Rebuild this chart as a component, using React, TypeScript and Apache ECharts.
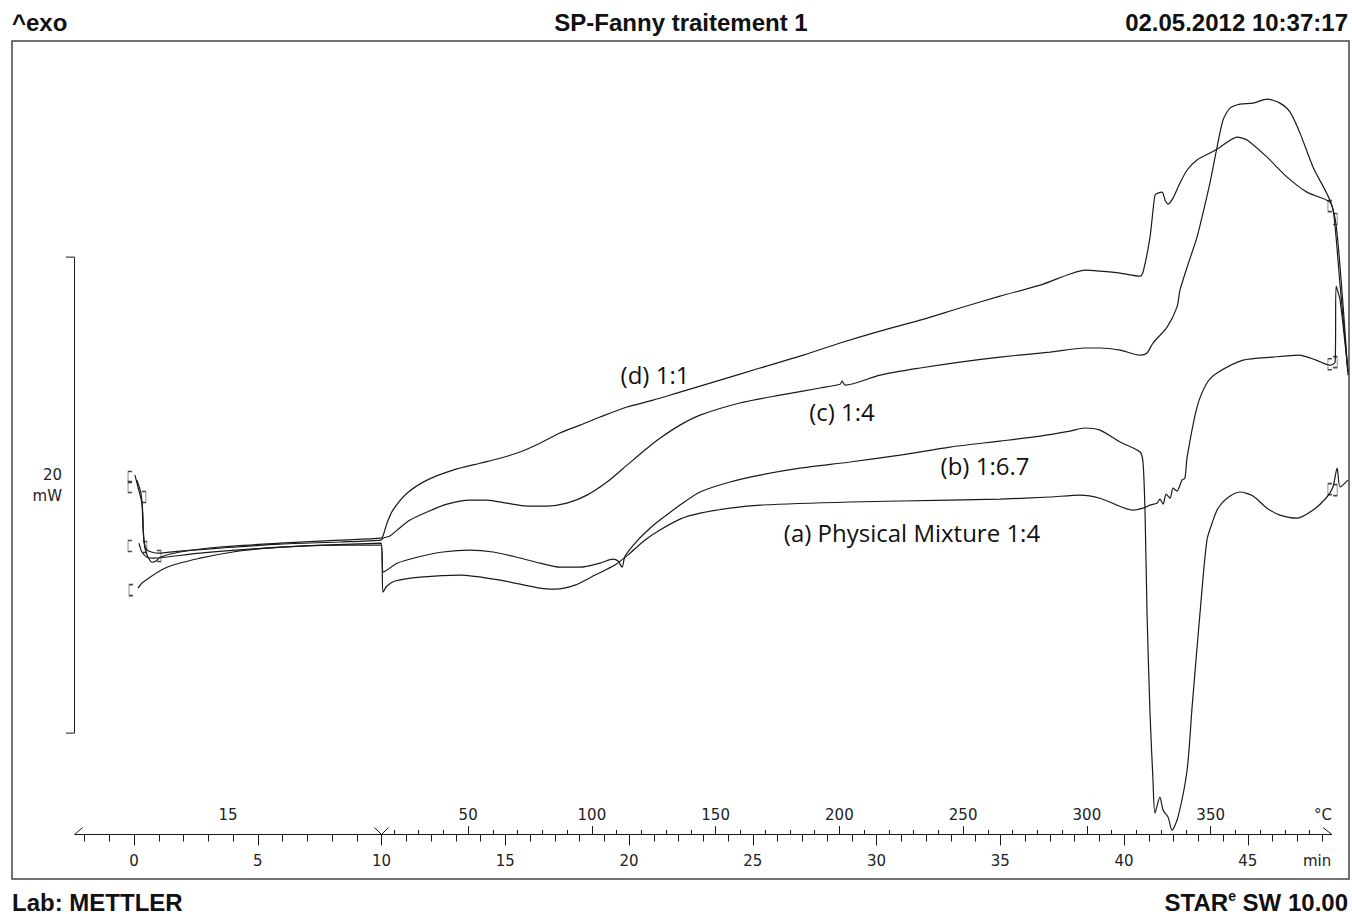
import React, { useEffect, useRef } from "react";
import * as echarts from "echarts";

// ---- axis program (time in min, temperature program) ----
const X_MIN = -2.4;
const X_MAX = 49.09;
const AXIS_END = 48.4;
const SEGMENT_BREAK = 10; // end of isothermal segment (min)
const ISO_TEMP = 15; // °C
const HEAT_RATE = 10; // K/min
const Y_MIN = -4.26;
const Y_MAX = 29.08;

const minuteLabels = [0, 5, 10, 15, 20, 25, 30, 35, 40, 45];
const tempLabels = [15, 50, 100, 150, 200, 250, 300, 350];
const MIN_UNIT_POS = 47.8;
const DEG_UNIT_POS = 48.04;
const scaleBarMw = [0, 20];

// ---- DSC curves: [time (min), heat flow (mW, arbitrary offset)] ----
const curveD = [
  [0.04, 10.84], [0.16, 10.34], [0.32, 9.66], [0.36, 8.66], [0.44, 7.77], [0.57, 7.39], [0.73, 7.18], [0.89, 7.23],
  [1.05, 7.39], [1.86, 7.61], [3.47, 7.82], [5.9, 7.98], [8.32, 8.11], [9.98, 8.19], [10.06, 8.28], [10.22, 8.82],
  [10.46, 9.37], [11.03, 10.08], [11.84, 10.63], [12.89, 11.05], [13.98, 11.34], [14.79, 11.55], [15.6, 11.81],
  [16.4, 12.18], [17.21, 12.61], [18.02, 12.94], [18.83, 13.28], [19.92, 13.7], [20.97, 13.99], [22.06, 14.33],
  [23.68, 14.83], [25.29, 15.34], [26.91, 15.84], [28.53, 16.39], [30.14, 16.89], [31.76, 17.35], [33.37, 17.86],
  [34.99, 18.36], [36.61, 18.82], [37.82, 19.29], [38.42, 19.45], [39.03, 19.41], [39.84, 19.33], [40.65, 19.2],
  [40.77, 19.37], [41.05, 20.84], [41.25, 22.61], [41.37, 22.69], [41.54, 22.73], [41.66, 22.39], [41.78, 22.23],
  [41.98, 22.48], [42.26, 23.11], [42.55, 23.66], [42.95, 24.08], [43.47, 24.37], [43.88, 24.62], [44.57, 25.04],
  [44.97, 24.92], [45.78, 24.2], [46.59, 23.36], [47.39, 22.73], [48.32, 22.31], [48.48, 21.76], [48.73, 18.82],
  [49.05, 15.17],
];
const curveC = [
  [0.12, 10.63], [0.28, 10.08], [0.36, 9.16], [0.4, 8.11], [0.53, 7.69], [0.97, 7.56], [1.86, 7.65], [3.47, 7.77],
  [5.9, 7.94], [8.32, 8.03], [9.98, 8.11], [10.06, 8.19], [10.34, 8.28], [10.63, 8.53], [11.15, 8.95], [11.84, 9.29],
  [12.65, 9.62], [13.58, 9.79], [14.26, 9.79], [15.07, 9.66], [15.88, 9.54], [16.69, 9.54], [17.49, 9.66],
  [18.3, 10.0], [19.11, 10.55], [19.92, 11.26], [20.73, 11.97], [21.25, 12.39], [22.06, 12.94], [22.87, 13.36],
  [24.48, 13.87], [26.1, 14.2], [27.72, 14.5], [28.53, 14.66], [28.61, 14.79], [28.73, 14.62], [30.14, 15.04],
  [31.76, 15.34], [33.37, 15.59], [34.99, 15.8], [37.01, 16.01], [38.42, 16.18], [39.03, 16.18], [39.84, 16.09],
  [40.65, 15.88], [40.93, 15.97], [41.17, 16.39], [41.74, 17.06], [42.14, 17.9], [42.26, 18.61], [42.55, 19.58],
  [42.95, 20.84], [43.19, 21.85], [43.47, 23.11], [43.76, 24.62], [44.0, 25.76], [44.28, 26.26], [44.69, 26.43],
  [45.21, 26.47], [45.78, 26.64], [46.3, 26.47], [46.71, 26.09], [47.11, 25.21], [47.64, 23.78], [48.32, 22.39],
  [48.57, 21.34], [48.85, 17.98], [49.05, 15.04],
];
const curveB = [
  [0.2, 7.98], [0.32, 7.61], [0.53, 7.39], [0.77, 7.35], [1.25, 7.39], [2.67, 7.56], [4.69, 7.73], [6.71, 7.86],
  [9.98, 7.98], [10.06, 6.76], [10.22, 6.85], [10.63, 7.14], [11.43, 7.39], [12.48, 7.61], [13.58, 7.69],
  [14.51, 7.61], [15.47, 7.39], [16.4, 7.14], [17.21, 6.97], [18.02, 6.97], [18.83, 7.14], [19.35, 7.31],
  [19.56, 7.23], [19.72, 6.97], [19.84, 7.44], [20.32, 8.07], [20.85, 8.61], [21.25, 8.95], [22.06, 9.58],
  [22.87, 10.13], [24.08, 10.55], [25.29, 10.84], [26.91, 11.13], [28.93, 11.39], [30.95, 11.68], [32.97, 12.02],
  [34.99, 12.27], [36.61, 12.48], [37.82, 12.69], [38.42, 12.82], [39.03, 12.73], [39.84, 12.23], [40.65, 11.81],
  [40.77, 11.34], [40.85, 9.24], [40.93, 5.04], [41.05, 0.84], [41.17, -1.97], [41.25, -3.36], [41.45, -2.69],
  [41.58, -3.24], [41.78, -3.53], [41.94, -4.08], [42.18, -3.53], [42.55, -1.55], [42.75, 1.09], [43.07, 5.04],
  [43.35, 8.11], [43.6, 8.95], [43.8, 9.45], [44.16, 9.87], [44.69, 10.13], [45.21, 9.96], [45.78, 9.45],
  [46.3, 9.16], [46.99, 9.03], [47.64, 9.37], [48.2, 9.92], [48.44, 10.34], [48.61, 11.13], [48.73, 10.34],
  [49.05, 10.63],
];
const curveA = [
  [0.16, 6.09], [0.36, 6.34], [1.33, 6.97], [2.67, 7.35], [4.0, 7.61], [5.37, 7.77], [6.71, 7.86], [8.32, 7.9],
  [9.98, 7.9], [10.06, 5.92], [10.22, 6.18], [10.55, 6.39], [11.56, 6.55], [13.17, 6.64], [14.79, 6.43],
  [16.4, 6.09], [17.01, 6.05], [17.82, 6.22], [18.63, 6.64], [19.43, 7.06], [20.04, 7.56], [20.65, 8.11],
  [21.25, 8.53], [22.06, 8.99], [22.87, 9.24], [24.08, 9.45], [25.29, 9.58], [28.93, 9.71], [32.97, 9.79],
  [34.99, 9.83], [37.01, 9.92], [38.22, 10.0], [39.03, 9.87], [40.36, 9.37], [40.77, 9.45], [41.05, 9.58],
  [41.33, 9.66], [41.45, 9.83], [41.58, 9.62], [41.7, 10.04], [41.86, 9.87], [41.98, 10.29], [42.14, 10.17],
  [42.34, 10.63], [42.46, 10.71], [42.55, 11.6], [42.95, 13.7], [43.35, 14.71], [43.76, 15.13], [44.81, 15.67],
  [46.02, 15.8], [47.07, 15.88], [47.76, 15.67], [48.32, 15.46], [48.53, 15.59], [48.57, 18.78], [48.73, 18.19],
  [49.05, 15.17],
];
// segment limit brackets
const openBrackets = [[-0.16, 10.76], [-0.16, 10.34], [-0.16, 7.86], [-0.12, 6.01], [48.32, 22.14], [48.32, 15.5], [48.32, 10.25]];
const closeBrackets = [[0.4, 9.92], [0.44, 7.82], [1.01, 7.44], [48.53, 21.6], [48.53, 15.59], [48.53, 10.21]];

const tempToTime = (T: number) =>
  T === ISO_TEMP ? (X_MIN + SEGMENT_BREAK) / 2 : SEGMENT_BREAK + (T - ISO_TEMP) / HEAT_RATE;

const minuteMinor: number[] = [];
for (let m = -2; m <= 48; m++) if (m % 5 !== 0) minuteMinor.push(m);
const tempMinor: number[] = [];
const tempMajor: number[] = [];
for (let T = 20; T <= 390; T += 10) (T % 50 === 0 ? tempMajor : tempMinor).push(tempToTime(T));

const INK = "#1a1a1a";
const AXIS_FONT = { fontFamily: "DejaVu Sans", fontSize: 15, color: "#222" };

const baseX = {
  type: "value",
  min: X_MIN,
  max: X_MAX,
  gridIndex: 0,
  position: "bottom",
  offset: 0,
  axisLine: { show: false, onZero: false },
  splitLine: { show: false },
  axisLabel: { show: false },
  axisTick: { show: false },
};

const near = (a: number, b: number) => Math.abs(a - b) < 1e-6;

const lineSeries = (name: string, data: number[][]) => ({
  name,
  type: "line",
  data,
  showSymbol: false,
  symbol: "none",
  smooth: 0.25,
  lineStyle: { color: INK, width: 1.2 },
  xAxisIndex: 0,
  yAxisIndex: 0,
  z: 3,
});

export default function App() {
  const ref = useRef<HTMLDivElement>(null);
  useEffect(() => {
    const chart = echarts.init(ref.current!, undefined, { renderer: "svg" });
    chart.setOption({
      animation: false,
      backgroundColor: "#ffffff",
      grid: { left: 74.6, right: 3, top: 41, bottom: 79.5, containLabel: false },
      xAxis: [
        { ...baseX, axisTick: { show: true, customValues: minuteMinor, length: 7, lineStyle: { color: INK, width: 1 } } },
        {
          ...baseX,
          axisTick: { show: true, customValues: minuteLabels, length: 11, lineStyle: { color: INK, width: 1 } },
          axisLabel: {
            show: true,
            customValues: [...minuteLabels, MIN_UNIT_POS],
            margin: 19,
            ...AXIS_FONT,
            formatter: (v: number) => (near(v, MIN_UNIT_POS) ? "min" : String(Math.round(v))),
          },
        },
        {
          ...baseX,
          axisTick: { show: true, inside: true, customValues: tempMinor, length: 4.5, lineStyle: { color: INK, width: 1 } },
        },
        {
          ...baseX,
          axisTick: { show: true, inside: true, customValues: tempMajor, length: 8.5, lineStyle: { color: INK, width: 1 } },
          axisLabel: {
            show: true,
            inside: true,
            customValues: [...tempLabels.map(tempToTime), DEG_UNIT_POS],
            margin: 12,
            ...AXIS_FONT,
            formatter: (v: number) => {
              if (near(v, DEG_UNIT_POS)) return "°C";
              const i = tempLabels.findIndex((T) => near(tempToTime(T), v));
              return i >= 0 ? String(tempLabels[i]) : "";
            },
          },
        },
      ],
      yAxis: { type: "value", min: Y_MIN, max: Y_MAX, show: false, splitLine: { show: false } },
      series: [
        lineSeries("(d) 1:1", curveD),
        lineSeries("(c) 1:4", curveC),
        lineSeries("(b) 1:6.7", curveB),
        lineSeries("(a) Physical Mixture 1:4", curveA),
        {
          type: "scatter",
          data: openBrackets,
          symbol: "path://M4,0 L0,0 L0,12 L4,12",
          symbolSize: [4, 11],
          itemStyle: { color: "rgba(0,0,0,0)", borderColor: INK, borderWidth: 1 },
          z: 4,
        },
        {
          type: "scatter",
          data: closeBrackets,
          symbol: "path://M0,0 L4,0 L4,12 L0,12",
          symbolSize: [4, 11],
          itemStyle: { color: "rgba(0,0,0,0)", borderColor: INK, borderWidth: 1 },
          z: 4,
        },
      ],
    });

    const px = (t: number, v: number) => chart.convertToPixel({ xAxisIndex: 0, yAxisIndex: 0 }, [t, v]) as number[];
    const [x0, axisY] = px(X_MIN, Y_MIN);
    const [xB] = px(SEGMENT_BREAK, Y_MIN);
    const [xE] = px(AXIS_END, Y_MIN);
    const [, yBar0] = px(0, scaleBarMw[0]);
    const [, yBar1] = px(0, scaleBarMw[1]);
    const barX = 74.5;
    const yMid = (yBar0 + yBar1) / 2;
    const lineStyle = { stroke: INK, lineWidth: 1, fill: "none" };
    const headFont = { fontFamily: "Liberation Sans", fontSize: 24, fontWeight: "bold", fill: "#111" };
    const labelFont = { fontFamily: "Open Sans", fontSize: 24, fill: "#111" };

    chart.setOption({
      graphic: [
        { type: "rect", shape: { x: 12, y: 41, width: 1337, height: 838 }, style: { fill: "none", stroke: "#444", lineWidth: 1.5 }, silent: true },
        { type: "text", x: 12, y: 22, style: { ...headFont, text: "^exo", align: "left", verticalAlign: "middle" } },
        { type: "text", x: 681, y: 22, style: { ...headFont, text: "SP-Fanny traitement 1", align: "center", verticalAlign: "middle" } },
        { type: "text", x: 1348, y: 22, style: { ...headFont, text: "02.05.2012 10:37:17", align: "right", verticalAlign: "middle" } },
        { type: "text", x: 12, y: 902, style: { ...headFont, text: "Lab: METTLER", align: "left", verticalAlign: "middle" } },
        {
          type: "text",
          x: 1348,
          y: 902,
          style: {
            text: "{a|STAR}{s|e}{a| SW 10.00}",
            align: "right",
            verticalAlign: "middle",
            rich: {
              a: { ...headFont, lineHeight: 26 },
              s: { fontFamily: "Liberation Sans", fontSize: 14, fontWeight: "bold", fill: "#111", lineHeight: 26, verticalAlign: "top" },
            },
          },
        },
        // time / temperature axis line and segment marks
        { type: "line", shape: { x1: x0, y1: axisY, x2: xE, y2: axisY }, style: lineStyle, z: 5 },
        { type: "polyline", shape: { points: [[x0, axisY], [x0 + 8, axisY - 7]] }, style: lineStyle, z: 5 },
        { type: "polyline", shape: { points: [[xB - 7, axisY - 7], [xB, axisY], [xB + 7, axisY - 7]] }, style: lineStyle, z: 5 },
        { type: "polyline", shape: { points: [[xE - 9, axisY - 7], [xE, axisY]] }, style: lineStyle, z: 5 },
        // mW scale bar
        { type: "polyline", shape: { points: [[66, yBar1], [barX, yBar1], [barX, yBar0], [66, yBar0]] }, style: lineStyle, z: 5 },
        { type: "text", x: 62, y: yMid - 20, style: { ...AXIS_FONT, fill: "#222", text: String(scaleBarMw[1]), align: "right", verticalAlign: "middle" } },
        { type: "text", x: 62, y: yMid + 1, style: { ...AXIS_FONT, fill: "#222", text: "mW", align: "right", verticalAlign: "middle" } },
        // curve labels
        { type: "text", x: 655, y: 374, style: { ...labelFont, text: "(d) 1:1", align: "center", verticalAlign: "middle" } },
        { type: "text", x: 842, y: 411, style: { ...labelFont, text: "(c) 1:4", align: "center", verticalAlign: "middle" } },
        { type: "text", x: 985, y: 465, style: { ...labelFont, text: "(b) 1:6.7", align: "center", verticalAlign: "middle" } },
        { type: "text", x: 912, y: 532, style: { ...labelFont, text: "(a) Physical Mixture 1:4", align: "center", verticalAlign: "middle" } },
      ],
    });
    return () => chart.dispose();
  }, []);
  return <div ref={ref} style={{ position: "absolute", left: 0, top: 0, width: 1352, height: 914 }} />;
}
